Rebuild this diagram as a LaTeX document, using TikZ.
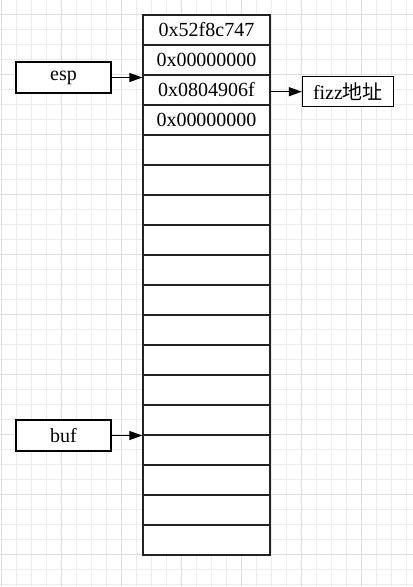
\documentclass[tikz,border=0pt]{standalone}
\usepackage{fontspec}
\setmainfont{Liberation Serif}
\newfontfamily\cjk{Noto Sans CJK SC}
\usetikzlibrary{arrows.meta}

\tikzset{
  gridminor/.style={draw={rgb,255:red,236;green,236;blue,236}, line width=0.75pt},
  gridmajor/.style={draw={rgb,255:red,222;green,222;blue,222}, line width=0.75pt},
  cellbox/.style={draw={rgb,255:red,34;green,34;blue,34}, line width=1pt, fill=white, minimum width=127*0.75pt, minimum height=30*0.75pt, inner sep=0pt, font=\fontsize{15}{18}\selectfont},
  labelbox/.style={draw=black, line width=1pt, fill=white, minimum width=95*0.75pt, minimum height=31*0.75pt, inner sep=0pt, font=\fontsize{15}{18}\selectfont},
  pointer/.style={draw=black, line width=0.9pt, -{Triangle[length=13*0.75pt, width=9*0.75pt]}}
}

\begin{document}
\begin{tikzpicture}[x=0.75pt,y=0.75pt,yscale=-1,xscale=1]
\useasboundingbox (0,0) rectangle (413,587);
\fill[white] (0,0) rectangle (413,587);

% grid
\foreach \k in {0,...,27} {
  \draw[gridminor] (1.7+15*\k,0) -- (1.7+15*\k,587);
}
\foreach \k in {0,...,39} {
  \draw[gridminor] (0,-0.7+15*\k) -- (413,-0.7+15*\k);
}
\foreach \k in {0,...,6} {
  \draw[gridmajor] (1.7+60*\k,0) -- (1.7+60*\k,587);
}
\foreach \k in {0,...,9} {
  \draw[gridmajor] (0,14.3+60*\k) -- (413,14.3+60*\k);
}

% stack cells
\foreach \i/\val in {1/0x52f8c747, 2/0x00000000, 3/0x0804906f, 4/0x00000000} {
  \node[cellbox] (cell\i) at (206.5,30*\i) {\val};
}
\foreach \i in {5,...,18} {
  \node[cellbox] (cell\i) at (206.5,30*\i) {};
}

% pointer boxes
\node[labelbox] (esp) at (63.5,77.5) {esp};
\node[labelbox] (buf) at (63.5,435.5) {buf};
\node[labelbox, minimum width=91*0.75pt, minimum height=30*0.75pt] (fizz) at (348,91.7) {fizz{\cjk 地址}};

% arrows
\draw[pointer] (esp.east) -- (esp.east -| cell3.west);
\draw[pointer] (buf.east) -- (buf.east -| cell15.west);
\draw[pointer] (fizz.west -| cell3.east) -- (fizz.west);

\end{tikzpicture}
\end{document}
